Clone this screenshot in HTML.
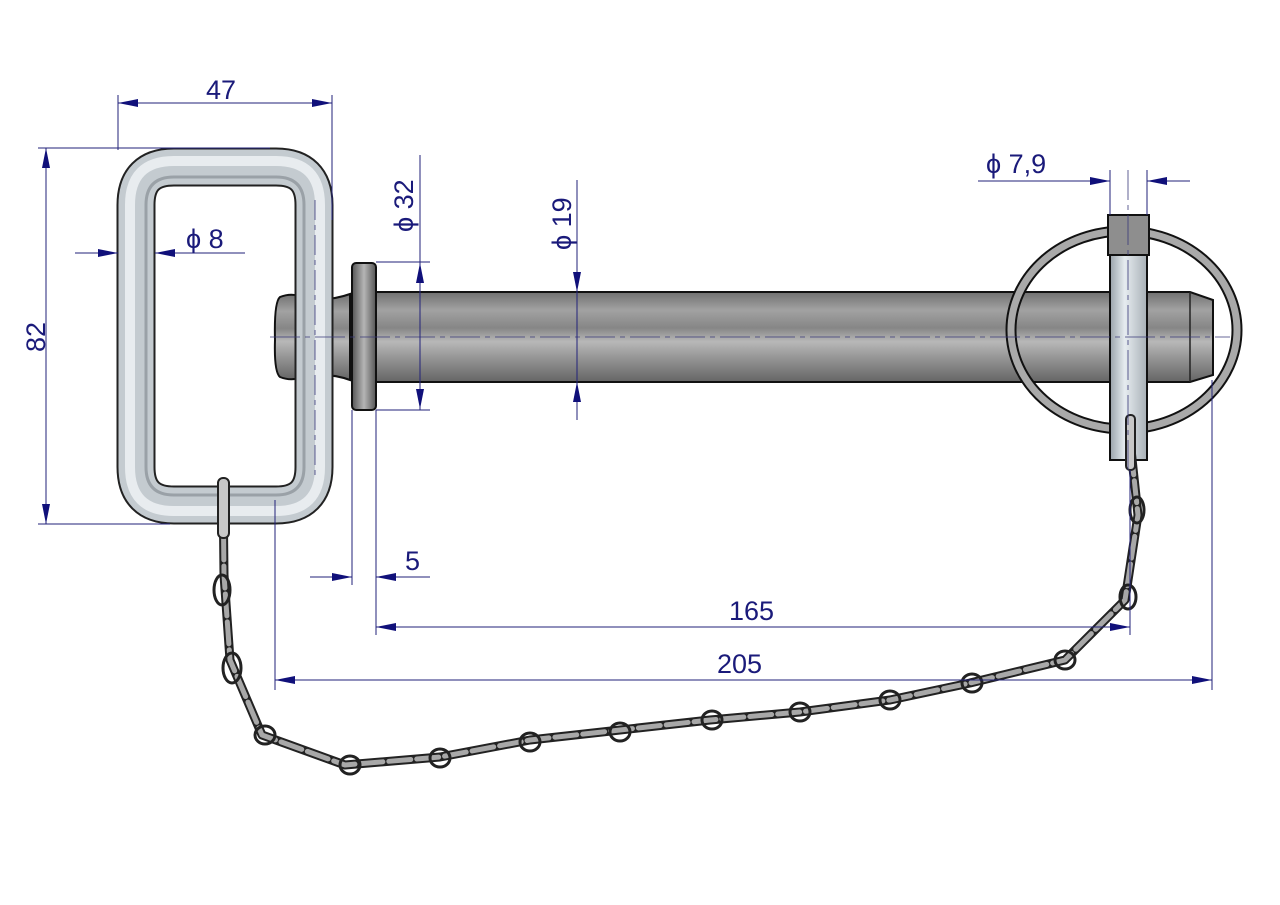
<!DOCTYPE html>
<html><head><meta charset="utf-8"><style>
html,body{margin:0;padding:0;background:#fff}
svg{display:block}
text{font-family:"Liberation Sans",sans-serif;fill:#1a1a7a;font-size:27px}
</style></head><body>
<svg width="1280" height="905" viewBox="0 0 1280 905" xmlns="http://www.w3.org/2000/svg">
<defs>
<linearGradient id="sh" x1="0" y1="0" x2="0" y2="1">
<stop offset="0" stop-color="#707070"/><stop offset="0.2" stop-color="#a2a2a2"/><stop offset="0.4" stop-color="#868686"/><stop offset="0.55" stop-color="#b8b8b8"/><stop offset="0.75" stop-color="#929292"/><stop offset="1" stop-color="#656565"/>
</linearGradient>
<linearGradient id="cp" x1="0" y1="0" x2="1" y2="0">
<stop offset="0" stop-color="#9aa3aa"/><stop offset="0.4" stop-color="#e6ecf0"/><stop offset="1" stop-color="#a8b0b6"/>
</linearGradient>
<linearGradient id="col" x1="0" y1="0" x2="1" y2="0">
<stop offset="0" stop-color="#555"/><stop offset="0.5" stop-color="#b5b5b5"/><stop offset="1" stop-color="#555"/>
</linearGradient>
<marker id="a" viewBox="0 0 20 8" refX="20" refY="4" markerWidth="20" markerHeight="8" orient="auto-start-reverse" markerUnits="userSpaceOnUse"><path d="M0,0L20,4L0,8z" fill="#10107a"/></marker>
</defs>

<path d="M376,292 H1190 L1213,300 V375 L1190,382 H376 Z" fill="url(#sh)" stroke="#111" stroke-width="2"/>
<line x1="1190" y1="292" x2="1190" y2="382" stroke="#222" stroke-width="1.5"/>
<path d="M280,297 Q290,293 300,296 Q325,303 350,294 V380 Q325,371 300,378 Q290,381 280,377 Q274,372 275,340 Q274,302 280,297Z" fill="url(#sh)" stroke="#111" stroke-width="2"/>
<rect x="352" y="263" width="24" height="147" rx="4" fill="url(#col)" stroke="#111" stroke-width="2"/>

<path d="M136,205 Q136,167 174,167 H276 Q314,167 314,205 V467 Q314,505 276,505 H174 Q136,505 136,467 Z" fill="none" stroke="#222" stroke-width="39"/>
<path d="M136,205 Q136,167 174,167 H276 Q314,167 314,205 V467 Q314,505 276,505 H174 Q136,505 136,467 Z" fill="none" stroke="#c4cbd0" stroke-width="35"/>
<path d="M130,205 Q130,161 174,161 H276 Q320,161 320,205 V467 Q320,511 276,511 H174 Q130,511 130,467 Z" fill="none" stroke="#e8ecef" stroke-width="10"/>
<path d="M146,205 Q146,177 174,177 H276 Q304,177 304,205 V467 Q304,495 276,495 H174 Q146,495 146,467 Z" fill="none" stroke="#9aa1a7" stroke-width="3"/>

<ellipse cx="1124" cy="330" rx="113" ry="99" fill="none" stroke="#111" stroke-width="11"/>
<ellipse cx="1124" cy="330" rx="113" ry="99" fill="none" stroke="#a9a9a9" stroke-width="7"/>
<rect x="1110" y="250" width="37" height="210" fill="url(#cp)" stroke="#111" stroke-width="2"/>
<rect x="1108" y="215" width="41" height="40" fill="#8e8e8e" stroke="#111" stroke-width="2"/>

<g fill="none" stroke-linecap="round" stroke-linejoin="round">
<path d="M223,482 L224,575 L230,660 L262,735 L345,765 L440,757 L530,740 L620,730 L710,720 L800,712 L890,700 L970,683 L1065,660 L1125,600 L1138,515 L1130,440" stroke="#222" stroke-width="9"/>
<path d="M223,482 L224,575 L230,660 L262,735 L345,765 L440,757 L530,740 L620,730 L710,720 L800,712 L890,700 L970,683 L1065,660 L1125,600 L1138,515 L1130,440" stroke="#a8a8a8" stroke-width="5" stroke-dasharray="22 6"/>
<g stroke="#222" stroke-width="3">
<ellipse cx="222" cy="590" rx="8" ry="15"/><ellipse cx="232" cy="668" rx="9" ry="15"/><ellipse cx="265" cy="735" rx="10" ry="9"/><ellipse cx="350" cy="765" rx="10" ry="9"/><ellipse cx="440" cy="758" rx="10" ry="9"/><ellipse cx="530" cy="742" rx="10" ry="9"/><ellipse cx="620" cy="732" rx="10" ry="9"/><ellipse cx="712" cy="720" rx="10" ry="9"/><ellipse cx="800" cy="712" rx="10" ry="9"/><ellipse cx="890" cy="700" rx="10" ry="9"/><ellipse cx="972" cy="683" rx="10" ry="9"/><ellipse cx="1065" cy="660" rx="10" ry="9"/><ellipse cx="1128" cy="597" rx="8" ry="12"/><ellipse cx="1137" cy="510" rx="7" ry="13"/>
</g>
<rect x="218" y="478" width="11" height="60" rx="5" fill="#c8c8c8" stroke="#222" stroke-width="2"/>
<rect x="1126" y="415" width="9" height="55" rx="4" fill="#c8c8c8" stroke="#222" stroke-width="2"/>
</g>

<g stroke="#3a3a7a" stroke-width="0.8" fill="none">
<line x1="270" y1="337" x2="1230" y2="337" stroke-dasharray="30 5 5 5"/>
<line x1="1128" y1="170" x2="1128" y2="470" stroke-dasharray="30 5 5 5"/>
<line x1="315" y1="200" x2="315" y2="480" stroke-dasharray="20 5 5 5"/>
</g>

<g stroke="#22227a" stroke-width="1" fill="none">
<line x1="118" y1="95" x2="118" y2="150"/><line x1="332" y1="95" x2="332" y2="220"/>
<line x1="118" y1="103" x2="332" y2="103" marker-start="url(#a)" marker-end="url(#a)"/>
<line x1="38" y1="148" x2="270" y2="148"/><line x1="38" y1="524" x2="170" y2="524"/>
<line x1="46" y1="148" x2="46" y2="524" marker-start="url(#a)" marker-end="url(#a)"/>
<line x1="75" y1="253" x2="118" y2="253" marker-end="url(#a)"/>
<line x1="245" y1="253" x2="155" y2="253" marker-end="url(#a)"/>
<line x1="376" y1="262" x2="430" y2="262"/><line x1="376" y1="410" x2="430" y2="410"/>
<line x1="420" y1="155" x2="420" y2="410"/>
<line x1="420" y1="290" x2="420" y2="263" marker-end="url(#a)"/>
<line x1="420" y1="382" x2="420" y2="409" marker-end="url(#a)"/>
<line x1="577" y1="180" x2="577" y2="420"/>
<line x1="577" y1="250" x2="577" y2="292" marker-end="url(#a)"/>
<line x1="577" y1="420" x2="577" y2="382" marker-end="url(#a)"/>
<line x1="1110" y1="170" x2="1110" y2="215"/><line x1="1147" y1="170" x2="1147" y2="215"/>
<line x1="978" y1="181" x2="1110" y2="181" marker-end="url(#a)"/>
<line x1="1190" y1="181" x2="1147" y2="181" marker-end="url(#a)"/>
<line x1="352" y1="410" x2="352" y2="585"/><line x1="376" y1="410" x2="376" y2="635"/>
<line x1="275" y1="500" x2="275" y2="690"/><line x1="1212" y1="380" x2="1212" y2="690"/>
<line x1="1130" y1="470" x2="1130" y2="635"/>
<line x1="310" y1="577" x2="352" y2="577" marker-end="url(#a)"/>
<line x1="430" y1="577" x2="376" y2="577" marker-end="url(#a)"/>
<line x1="376" y1="627" x2="1130" y2="627" marker-start="url(#a)" marker-end="url(#a)"/>
<line x1="275" y1="680" x2="1212" y2="680" marker-start="url(#a)" marker-end="url(#a)"/>
</g>

<text x="206" y="99">47</text>
<text transform="translate(45,352) rotate(-90)">82</text>
<text x="186" y="248">ϕ 8</text>
<text transform="translate(413,232) rotate(-90)">ϕ 32</text>
<text transform="translate(571,250) rotate(-90)">ϕ 19</text>
<text x="986" y="173">ϕ 7,9</text>
<text x="405" y="570">5</text>
<text x="729" y="620">165</text>
<text x="717" y="673">205</text>
</svg>
</body></html>
